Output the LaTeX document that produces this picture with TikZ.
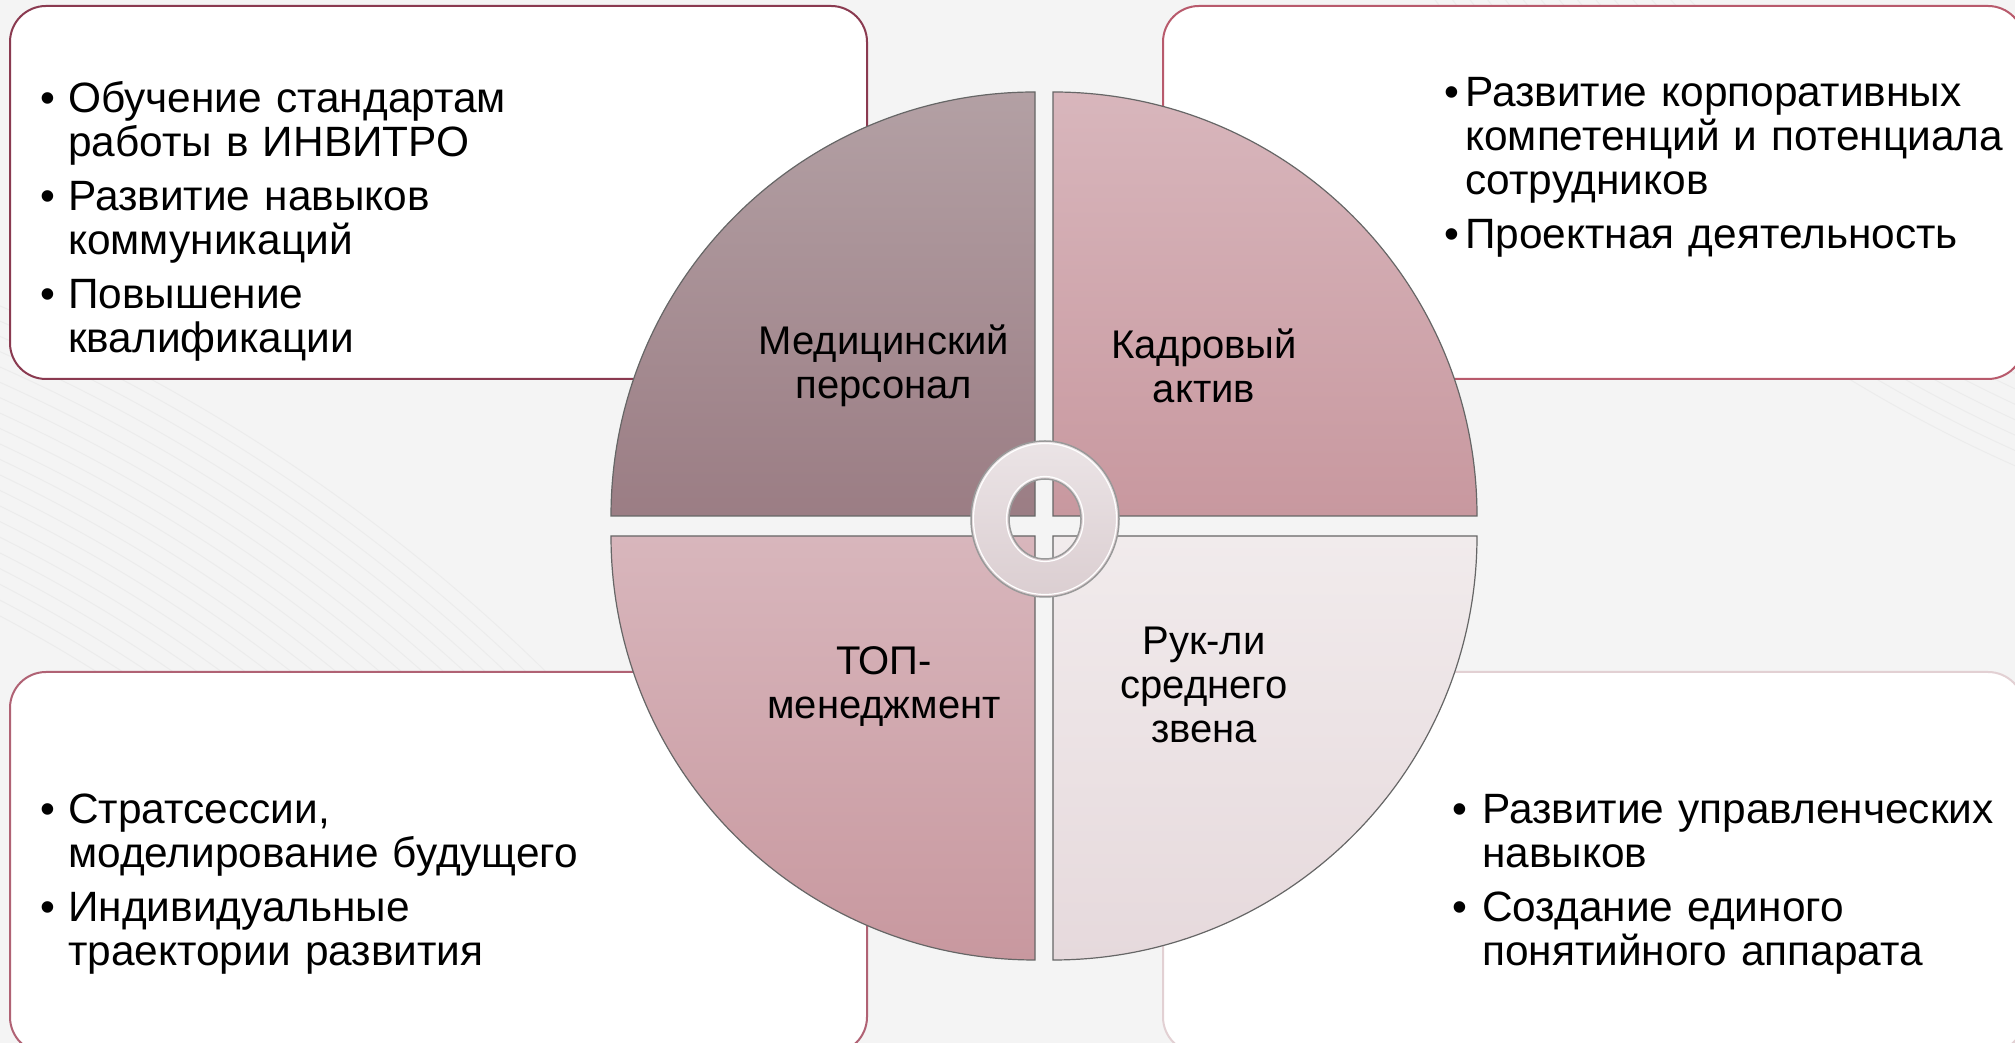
\documentclass[tikz,border=0pt]{standalone}
\usepackage{fontspec}
\setmainfont{Liberation Sans}
\newcommand{\bitem}[2][28pt]{\hangindent=#1\hangafter=1\noindent\makebox[#1][l]{\textbullet}#2\par}
\begin{document}
\begin{tikzpicture}[x=1pt,y=1pt,
  boxtext/.style={anchor=base west,inner sep=0pt,text width=640pt,
    font=\fontsize{42.4}{44}\selectfont\raggedright\setlength{\parskip}{10pt}},
  qlabel/.style={anchor=center,inner sep=0pt,align=center,font=\fontsize{40}{44}\selectfont},
  infobox/.style={fill=white,line width=2pt,rounded corners=36pt},
  quad/.style={draw=qedge,line width=1.2pt}]
\definecolor{bg}{HTML}{F4F4F4}
\definecolor{swirl}{HTML}{ECECEC}
\definecolor{qedge}{HTML}{666666}
\definecolor{bTL}{HTML}{8A3A50}
\definecolor{bTR}{HTML}{B85A6C}
\definecolor{bBL}{HTML}{B06274}
\definecolor{bBR}{HTML}{E2D0D3}
\definecolor{aTop}{HTML}{B3A0A4}
\definecolor{aBot}{HTML}{9B7D84}
\definecolor{pTop}{HTML}{D8B6BC}
\definecolor{pBot}{HTML}{C8989F}
\definecolor{lTop}{HTML}{F1EBEC}
\definecolor{lBot}{HTML}{E6D9DC}
\definecolor{rTop}{HTML}{EBE4E6}
\definecolor{rBot}{HTML}{DBCED1}
\useasboundingbox (0,0) rectangle (2015,1043);
\fill[bg] (0,0) rectangle (2015,1043);
% faint background swirls
\begin{scope}
\clip (0,0) rectangle (2015,1043);
\foreach \r in {1500,1514,...,1780}{
  \draw[swirl,line width=1pt] (-700,-900) circle[radius=\r];
}
\foreach \r in {1250,1264,...,1450}{
  \draw[swirl,line width=1pt] (2600,1900) circle[radius=\r];
}
\end{scope}
% information boxes
\draw[infobox,draw=bTL] (10,664) rectangle (867,1037);
\draw[infobox,draw=bTR] (1163,664) rectangle (2024,1037);
\draw[infobox,draw=bBL] (10,-10) rectangle (867,371);
\draw[infobox,draw=bBR] (1163,-10) rectangle (2024,371);
% quadrants
\path[quad,top color=aTop,bottom color=aBot]
  (1035,527) -- ++(-424,0) arc[start angle=180,end angle=90,radius=424] -- cycle;
\path[quad,top color=pTop,bottom color=pBot]
  (1053,527) -- ++(0,424) arc[start angle=90,end angle=0,radius=424] -- cycle;
\path[quad,top color=pTop,bottom color=pBot]
  (1035,507) -- ++(0,-424) arc[start angle=270,end angle=180,radius=424] -- cycle;
\path[quad,top color=lTop,bottom color=lBot]
  (1053,507) -- ++(424,0) arc[start angle=0,end angle=-90,radius=424] -- cycle;
% central ring
\path[even odd rule,top color=rTop,bottom color=rBot]
  (1045,524) ellipse[x radius=74,y radius=78]
  (1045,524) ellipse[x radius=36,y radius=40];
\draw[draw=gray!80,line width=1.5pt] (1045,524) ellipse[x radius=74,y radius=78];
\draw[draw=white,line width=1.2pt] (1045,524) ellipse[x radius=71.5,y radius=75.5];
\draw[draw=gray!80,line width=1.5pt] (1045,524) ellipse[x radius=36,y radius=40];
\draw[draw=white,line width=1.2pt] (1045,524) ellipse[x radius=38.5,y radius=42.5];
% quadrant labels
\node[qlabel] (med) at (884,677) {Медицинский\\персонал};
\node[qlabel] (kadr) at (1204,677) {Кадровый\\актив};
\node[qlabel] (top) at (884,356) {ТОП-\\менеджмент};
\node[qlabel] (ruk) at (1204,358) {Рук-ли\\среднего\\звена};
% box texts
\node[boxtext] (tTL) at (40,930) {%
  \bitem{Обучение стандартам\newline работы в ИНВИТРО}
  \bitem{Развитие навыков\newline коммуникаций}
  \bitem{Повышение\newline квалификации}};
\node[boxtext] (tTR) at (1444,936) {%
  \bitem[21pt]{Развитие корпоративных\newline компетенций и потенциала\newline сотрудников}
  \bitem[21pt]{Проектная деятельность}};
\node[boxtext] (tBL) at (40,219.5) {%
  \bitem{Стратсессии,\newline моделирование будущего}
  \bitem{Индивидуальные\newline траектории развития}};
\node[boxtext] (tBR) at (1452,219.5) {%
  \bitem[30pt]{Развитие управленческих\newline навыков}
  \bitem[30pt]{Создание единого\newline понятийного аппарата}};
\end{tikzpicture}
\end{document}
